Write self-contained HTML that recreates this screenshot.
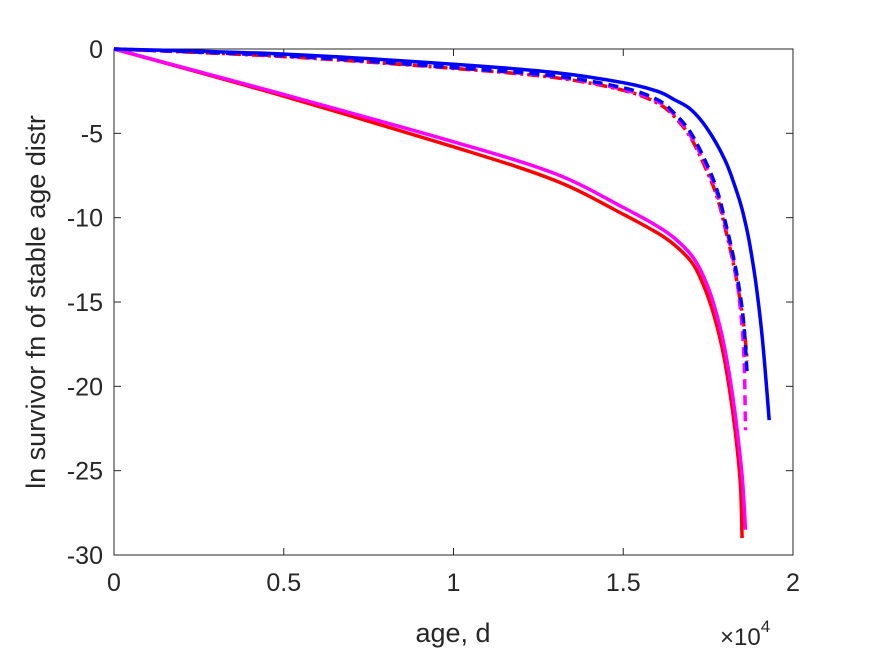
<!DOCTYPE html>
<html><head><meta charset="utf-8"><style>
body{margin:0;background:#fff}
svg text{font-family:"Liberation Sans",Arial,sans-serif;fill:#262626}
</style></head><body>
<svg width="875" height="656" xmlns="http://www.w3.org/2000/svg">
<rect x="0" y="0" width="875" height="656" fill="#fff"/>
<rect x="114" y="49" width="679" height="506" fill="#fff" stroke="#262626" stroke-width="1"/>
<g id="ticks"></g>
<g id="series"></g>
<text x="453" y="642" font-size="27" text-anchor="middle">age, d</text>
<text x="720" y="645" font-size="24">×10<tspan font-size="17" dy="-13">4</tspan></text>
<text transform="translate(45,302) rotate(-90)" font-size="27" text-anchor="middle">ln survivor fn of stable age distr</text>
</svg>
<script>
const xTicks=[0,0.5,1,1.5,2];
const xTickLabels=["0","0.5","1","1.5","2"];
const yTicks=[0,-5,-10,-15,-20,-25,-30];
const yTickLabels=["0","-5","-10","-15","-20","-25","-30"];
const ageBlueSolid=[0,0.5,1.0,1.3,1.5,1.6,1.65,1.7,1.75,1.8,1.83,1.85,1.87,1.89,1.91,1.93];
const valBlueSolid=[0,-0.3,-0.9,-1.4,-2.0,-2.5,-3.0,-3.6,-4.8,-6.6,-8.2,-9.5,-11.3,-13.8,-17.2,-22];
const ageDashed=[0,0.5,1.0,1.3,1.5,1.6,1.65,1.7,1.75,1.78,1.8,1.82,1.84,1.855,1.865];
const valBlueDashed=[0,-0.4,-1.1,-1.6,-2.3,-3.0,-3.8,-5.0,-7.0,-8.6,-10.2,-11.9,-14.0,-16.3,-19.3];
const valRedDashed=[0,-0.45,-1.15,-1.7,-2.45,-3.2,-4.0,-5.3,-7.4,-9.0,-10.6,-12.3,-14.4,-16.4,-18.5];
const ageMagDashed=[0,0.5,1.0,1.3,1.5,1.6,1.65,1.7,1.75,1.78,1.8,1.82,1.84,1.855,1.86];
const valMagDashed=[0,-0.42,-1.12,-1.65,-2.4,-3.1,-3.9,-5.2,-7.2,-8.8,-10.4,-12.1,-14.5,-18,-22.6];
const ageRedSolid=[0,0.5,1.0,1.3,1.5,1.6,1.65,1.7,1.73,1.76,1.79,1.81,1.83,1.845,1.85];
const valRedSolid=[0,-2.8,-5.8,-7.8,-9.8,-10.9,-11.6,-12.6,-13.7,-15.3,-17.6,-19.8,-22.7,-25.8,-29];
const ageMagSolid=[0,0.5,1.0,1.3,1.5,1.6,1.65,1.7,1.73,1.76,1.79,1.81,1.83,1.85,1.86];
const valMagSolid=[0,-2.7,-5.5,-7.4,-9.4,-10.5,-11.2,-12.2,-13.2,-14.7,-16.9,-19.0,-21.7,-25.3,-28.5];

const X=v=>114+v/2*679;
const Y=v=>49+(-v)/30*506;
const NS="http://www.w3.org/2000/svg";
const tg=document.getElementById('ticks');
xTicks.forEach((t,i)=>{
  const l=document.createElementNS(NS,'line');
  l.setAttribute('x1',X(t));l.setAttribute('x2',X(t));l.setAttribute('y1',555);l.setAttribute('y2',548);
  l.setAttribute('stroke','#262626');
  
  
  tg.appendChild(l);
  const l2=l.cloneNode();l2.setAttribute('y1',49);l2.setAttribute('y2',56);tg.appendChild(l2);
  const tx=document.createElementNS(NS,'text');
  tx.setAttribute('x',X(t));tx.setAttribute('y',591);tx.setAttribute('font-size','25');tx.setAttribute('text-anchor','middle');
  tx.textContent=xTickLabels[i];
  
  
  tg.appendChild(tx);
});
yTicks.forEach((t,i)=>{
  const l=document.createElementNS(NS,'line');
  l.setAttribute('x1',114);l.setAttribute('x2',121);l.setAttribute('y1',Y(t));l.setAttribute('y2',Y(t));
  l.setAttribute('stroke','#262626');
  
  
  tg.appendChild(l);
  const l2=l.cloneNode();l2.setAttribute('x1',793);l2.setAttribute('x2',786);tg.appendChild(l2);
  const tx=document.createElementNS(NS,'text');
  tx.setAttribute('x',103);tx.setAttribute('y',Y(t)+9);tx.setAttribute('font-size','25');tx.setAttribute('text-anchor','end');
  tx.textContent=yTickLabels[i];
  
  
  tg.appendChild(tx);
});
const sg=document.getElementById('series');
function draw(ages,vals,color,dash,name){
  const pts=ages.map((a,i)=>[X(a),Y(vals[i])]);
  let d='M'+pts[0][0].toFixed(1)+','+pts[0][1].toFixed(1);
  for(let i=0;i<pts.length-1;i++){
    const p0=pts[i-1]||pts[i],p1=pts[i],p2=pts[i+1],p3=pts[i+2]||p2;
    const c1=[p1[0]+(p2[0]-p0[0])/6,p1[1]+(p2[1]-p0[1])/6];
    const c2=[p2[0]-(p3[0]-p1[0])/6,p2[1]-(p3[1]-p1[1])/6];
    d+='C'+c1.map(v=>v.toFixed(1)).join(',')+' '+c2.map(v=>v.toFixed(1)).join(',')+' '+p2.map(v=>v.toFixed(1)).join(',');
  }
  const p=document.createElementNS(NS,'path');
  p.setAttribute('d',d);p.setAttribute('fill','none');p.setAttribute('stroke',color);
  p.setAttribute('stroke-width','3.5');p.setAttribute('stroke-linejoin','round');
  if(dash)p.setAttribute('stroke-dasharray',dash);
  
  
  sg.appendChild(p);
}
draw(ageRedSolid,valRedSolid,'#ff0000',null,'series-red-solid');
draw(ageMagSolid,valMagSolid,'#ff00ff',null,'series-magenta-solid');
draw(ageDashed,valRedDashed,'#ff0000','12,4,3,4','series-red-dashdot');
draw(ageMagDashed,valMagDashed,'#ff00ff','10,6','series-magenta-dashed');
draw(ageDashed,valBlueDashed,'#0000ff','10,6','series-blue-dashed');
draw(ageBlueSolid,valBlueSolid,'#0000ff',null,'series-blue-solid');
</script>
</body></html>
